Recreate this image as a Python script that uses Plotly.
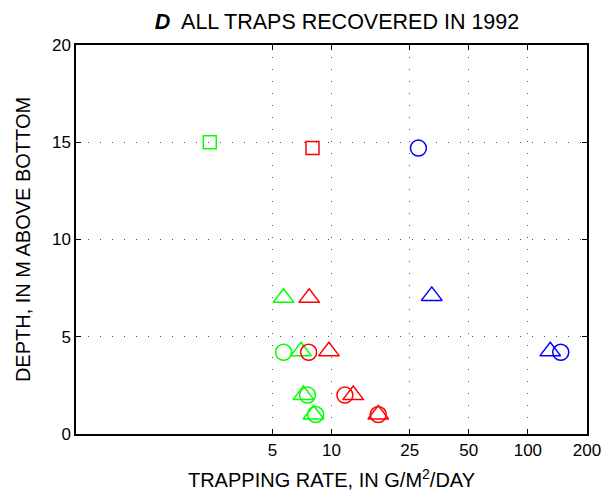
import math
import plotly.graph_objects as go

# trapping rate (g/m2/day) and depth (m above bottom), per trap type / colour
green_square_x = [2.4]
green_square_y = [15.0]
red_square_x = [8.0]
red_square_y = [14.7]
blue_circle_x = [27.7, 147.0]
blue_circle_y = [14.7, 4.2]
blue_triangle_x = [32.4, 130.0]
blue_triangle_y = [7.1, 4.25]
green_circle_x = [5.7, 7.55, 8.3]
green_circle_y = [4.2, 2.0, 1.0]
green_triangle_x = [5.7, 7.0, 7.2, 8.1]
green_triangle_y = [7.0, 4.25, 2.0, 1.0]
red_circle_x = [7.65, 11.7, 17.3]
red_circle_y = [4.2, 2.0, 1.0]
red_triangle_x = [7.7, 9.7, 12.9, 17.3]
red_triangle_y = [7.0, 4.25, 2.0, 1.0]

x_ticks = [5, 10, 25, 50, 100, 200]
y_ticks = [0, 5, 10, 15, 20]

GREEN = "#00FF00"
RED = "#FF0000"
BLUE = "#0000FF"

series = [
    (green_square_x, green_square_y, GREEN, "square-open", 13),
    (red_square_x, red_square_y, RED, "square-open", 13),
    (blue_circle_x, blue_circle_y, BLUE, "circle-open", 16),
    (blue_triangle_x, blue_triangle_y, BLUE, "triangle-up-open", 18),
    (green_circle_x, green_circle_y, GREEN, "circle-open", 16),
    (green_triangle_x, green_triangle_y, GREEN, "triangle-up-open", 18),
    (red_circle_x, red_circle_y, RED, "circle-open", 16),
    (red_triangle_x, red_triangle_y, RED, "triangle-up-open", 18),
]

fig = go.Figure()
for xs, ys, color, symbol, size in series:
    fig.add_trace(
        go.Scatter(
            x=xs,
            y=ys,
            mode="markers",
            marker=dict(symbol=symbol, size=size, color=color, line=dict(color=color, width=1.5)),
            showlegend=False,
            hoverinfo="x+y",
        )
    )

font_family = "Liberation Sans, Arial, sans-serif"
axis_common = dict(
    showline=True,
    linecolor="black",
    linewidth=1.5,
    mirror="ticks",
    ticks="inside",
    ticklen=5,
    tickwidth=1,
    tickcolor="black",
    showgrid=True,
    gridcolor="#555555",
    gridwidth=1,
    griddash="1px,11px",
    zeroline=False,
    tickfont=dict(family=font_family, size=17, color="black"),
)

# page has an 8px body margin, so the figure is 605x492
fig.update_layout(
    width=605,
    height=492,
    paper_bgcolor="white",
    plot_bgcolor="white",
    margin=dict(l=68, r=15, t=37, b=59),
    title=dict(
        text="<b><i>D</i></b>  ALL TRAPS RECOVERED IN 1992",
        x=(68 + (605 - 68 - 15) / 2) / 605,
        xanchor="center",
        y=1 - 13 / 492,
        yanchor="middle",
        font=dict(family=font_family, size=21.5, color="black"),
    ),
    xaxis=dict(
        type="log",
        range=[math.log10(0.5), math.log10(200)],
        tickvals=x_ticks,
        ticktext=[str(v) for v in x_ticks],
        title=dict(
            text="TRAPPING RATE, IN G/M<sup>2</sup>/DAY",
            font=dict(family=font_family, size=20, color="black"),
            standoff=14,
        ),
        **axis_common,
    ),
    yaxis=dict(
        range=[0, 20],
        tickvals=y_ticks,
        title=dict(
            text="DEPTH, IN M ABOVE BOTTOM",
            font=dict(family=font_family, size=20, color="black"),
            standoff=16,
        ),
        **axis_common,
    ),
)

fig.write_html("out.html")
